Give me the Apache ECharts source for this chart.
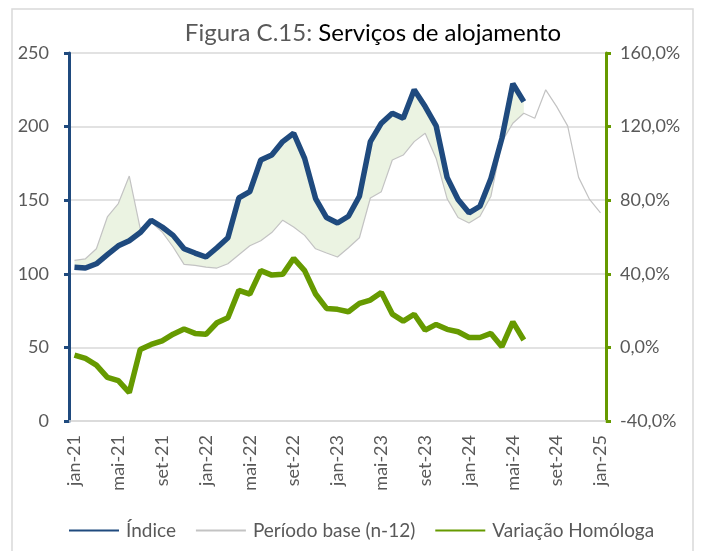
<!DOCTYPE html>
<html>
<head>
<meta charset="utf-8">
<script src="https://cdn.jsdelivr.net/npm/echarts@6/dist/echarts.min.js"></script>
<style>
  html, body { margin: 0; padding: 0; background: #fff; }
  #chart { width: 702px; height: 551px; }
</style>
</head>
<body>
<div id="chart"></div>
<script>
// meses / anos do eixo
var meses = ['jan', 'fev', 'mar', 'abr', 'mai', 'jun', 'jul', 'ago', 'set', 'out', 'nov', 'dez'];
var anos = ['21', '22', '23', '24', '25'];

// Índice (jan-21 a jun-24)
var indice = [104.5, 103.9, 106.8, 113, 119, 122.5, 128, 136.4, 131.8, 126.1, 117, 114.1,
  111.4, 117.7, 124.5, 151.5, 155.8, 177.3, 180.7, 189.8, 195.5, 178.4, 151.1, 138.2,
  134.5, 139.1, 152.7, 189.8, 202.3, 209.1, 205.7, 225, 213.6, 200.5, 165.5, 150.5,
  141.4, 145.9, 164.8, 192, 229.1, 217];

// Período base (n-12), jan-21 a jan-25
var base = [109.1, 110.2, 117, 138.6, 147.7, 166.4, 130.7, 135.2, 128.4, 118.2, 106.4, 105.7,
  104.5, 103.9, 106.8, 113, 119, 122.5, 128, 136.4, 131.8, 126.1, 117, 114.1,
  111.4, 117.7, 124.5, 151.5, 155.8, 177.3, 180.7, 189.8, 195.5, 178.4, 151.1, 138.2,
  134.5, 139.1, 152.7, 189.8, 202.3, 209.1, 205.7, 225, 213.6, 200.5, 165.5, 150.5,
  141.4];

// Variação homóloga (%)
var variacao = [-4.2, -6.0, -9.6, -16.3, -18.1, -24.6, -1.1, 1.6, 3.6, 7.2, 10.0, 7.6,
  7.1, 13.4, 16.1, 31.0, 29.0, 41.7, 39.3, 39.7, 48.4, 41.7, 29.0, 21.2,
  20.7, 19.4, 23.9, 25.7, 29.9, 18.1, 14.3, 18.0, 9.4, 12.5, 9.8, 8.5,
  5.4, 5.4, 7.6, 0.4, 13.9, 4.0];

var categorias = [];
anos.forEach(function (a) {
  meses.forEach(function (m) {
    if (categorias.length < 49) categorias.push(m + '-' + a);
  });
});

var azul = '#1f4a7e';
var verde = '#669a00';
var cinza = '#c3c3c3';
var texto = '#595959';
var fonte = 'Lato';

var chart = echarts.init(document.getElementById('chart'));

// área entre índice e período base
var areaData = indice.map(function (v, i) { return [i, v, base[i]]; });

var option = {
  backgroundColor: '#fff',
  animation: false,
  textStyle: { fontFamily: fonte },
  graphic: [{
    type: 'rect',
    shape: { x: 12, y: 9, width: 681, height: 560 },
    style: { fill: 'none', stroke: '#d9d9d9', lineWidth: 1.5 },
    silent: true
  }],
  title: {
    text: '{a|Figura C.15: }{b|Serviços de alojamento}',
    left: 368,
    textAlign: 'center',
    top: 16,
    textStyle: {
      fontWeight: 'normal',
      rich: {
        a: { fontFamily: fonte, fontSize: 24, fontWeight: 'normal', color: texto },
        b: { fontFamily: fonte, fontSize: 24, fontWeight: 'normal', color: '#000' }
      }
    }
  },
  grid: { left: 69, right: 96, top: 53, bottom: 130 },
  legend: {
    data: ['Índice', 'Período base (n-12)', 'Variação Homóloga'],
    left: 63,
    top: 516,
    itemWidth: 50,
    itemHeight: 14,
    itemGap: 19,
    itemStyle: { opacity: 0, borderWidth: 0 },
    textStyle: { fontFamily: fonte, fontSize: 19, color: texto, padding: [0, 0, 0, 2] }
  },
  xAxis: {
    type: 'category',
    data: categorias,
    boundaryGap: true,
    axisLine: { lineStyle: { color: '#d9d9d9', width: 1.5 } },
    axisTick: { interval: 1, length: 5, lineStyle: { color: '#d9d9d9', width: 1.5 } },
    axisLabel: { interval: 3, rotate: 90, margin: 14, fontSize: 18, color: texto, fontFamily: fonte }
  },
  yAxis: [{
    type: 'value',
    min: 0, max: 250, interval: 50,
    axisLine: { show: true, lineStyle: { color: azul, width: 3 } },
    axisTick: { show: true, length: 5, lineStyle: { color: azul, width: 3 } },
    axisLabel: { margin: 20, fontSize: 18, color: texto, fontFamily: fonte },
    splitLine: { lineStyle: { color: '#d9d9d9', width: 1.5 } }
  }, {
    type: 'value',
    min: -40, max: 160, interval: 40,
    position: 'right',
    axisLine: { show: true, lineStyle: { color: verde, width: 3 } },
    axisTick: { show: true, length: 5, lineStyle: { color: verde, width: 3 } },
    axisLabel: {
      margin: 14, fontSize: 18, color: texto, fontFamily: fonte,
      formatter: function (v) { return v.toFixed(1).replace('.', ',') + '%'; }
    },
    splitLine: { show: false }
  }],
  series: [{
    name: 'area',
    type: 'custom',
    data: areaData,
    encode: { x: 0, y: 1 },
    z: 1,
    silent: true,
    renderItem: function (params, api) {
      if (params.dataIndex !== 0) return;
      var pts = [];
      for (var i = 0; i < indice.length; i++) pts.push(api.coord([i, indice[i]]));
      for (var j = indice.length - 1; j >= 0; j--) pts.push(api.coord([j, base[j]]));
      return {
        type: 'polygon',
        shape: { points: pts },
        style: { fill: '#ebf3e2', stroke: null }
      };
    }
  }, {
    name: 'Período base (n-12)',
    type: 'line',
    data: base,
    symbol: 'none',
    z: 2,
    lineStyle: { color: cinza, width: 1.2 },
    itemStyle: { color: cinza }
  }, {
    name: 'Índice',
    type: 'line',
    data: indice,
    symbol: 'none',
    z: 3,
    lineStyle: { color: azul, width: 5.5 },
    itemStyle: { color: azul }
  }, {
    name: 'Variação Homóloga',
    type: 'line',
    yAxisIndex: 1,
    data: variacao,
    symbol: 'none',
    z: 3,
    lineStyle: { color: verde, width: 5.5 },
    itemStyle: { color: verde }
  }]
};

chart.setOption(option);
</script>
</body>
</html>
